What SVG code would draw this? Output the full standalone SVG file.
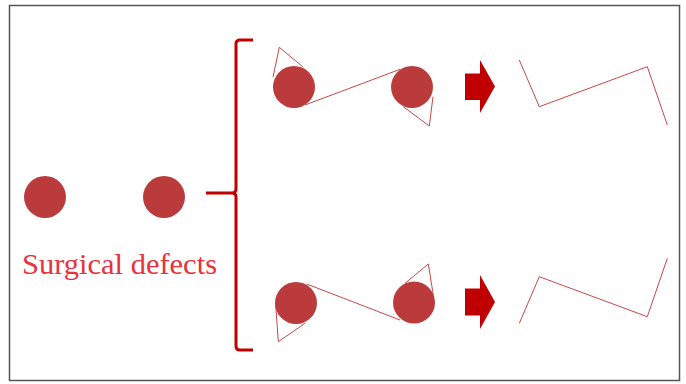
<svg xmlns="http://www.w3.org/2000/svg" width="686" height="384" viewBox="0 0 686 384">
<defs>
<style>
.dot{fill:#bb3a3c}
.thin{fill:none;stroke:#c84848;stroke-width:1}
.arrow{fill:#c00000}
.brace{fill:none;stroke:#c00000;stroke-width:3;stroke-linejoin:round}
.lbl{font-family:"Liberation Serif",serif;font-size:30px;fill:#e8323c}
</style>
</defs>
<rect width="686" height="384" fill="#fff"/>
<rect x="9.5" y="5.5" width="670" height="375" fill="none" stroke="#555" stroke-width="1.5"/>
<g id="defect1"><circle class="dot" cx="45" cy="197" r="21"/></g>
<g id="defect2"><circle class="dot" cx="164" cy="197" r="21"/></g>
<g id="label"><text class="lbl" x="22" y="274" textLength="195" lengthAdjust="spacingAndGlyphs">Surgical defects</text></g>
<g id="brace"><path class="brace" d="M253,40 H240 Q236,40 236,44 V189 Q236,193 232,193 H206 M232,193 Q236,193 236,197 V346 Q236,350 240,350 H253"/></g>
<g id="top-flap">
<polyline class="thin" points="273,77 279.3,47.3 302.7,66.7"/>
<polyline class="thin" points="433,96.7 429.3,126 403.3,106.7"/>
<circle class="dot" cx="294" cy="87" r="21"/>
<circle class="dot" cx="412" cy="87" r="21"/>
</g>
<g id="bottom-flap">
<polyline class="thin" points="275.7,305 278.3,341.7 305,323.3"/>
<polyline class="thin" points="405,283.3 428.3,264 433.3,295"/>
<circle class="dot" cx="296" cy="303" r="21"/>
<circle class="dot" cx="414" cy="302.5" r="21"/>
</g>
<g id="top-result"><polyline class="thin" points="519.3,60 539.3,106.7 647.3,66.7 667.3,125"/></g>
<g id="bottom-result"><polyline class="thin" points="519.3,323.3 539.3,276.7 647.3,316.7 667.3,258.3"/></g>
<g id="connectors">
<line class="thin" x1="305" y1="105" x2="400" y2="69.3"/>
<line class="thin" x1="306.7" y1="284" x2="400" y2="320"/>
<polygon class="arrow" points="465,73.5 480,73.5 480,60 495,86.5 480,113 480,100 465,100"/>
<polygon class="arrow" points="465,288.5 480,288.5 480,275 495,302 480,329 480,315.5 465,315.5"/>
</g>
</svg>
